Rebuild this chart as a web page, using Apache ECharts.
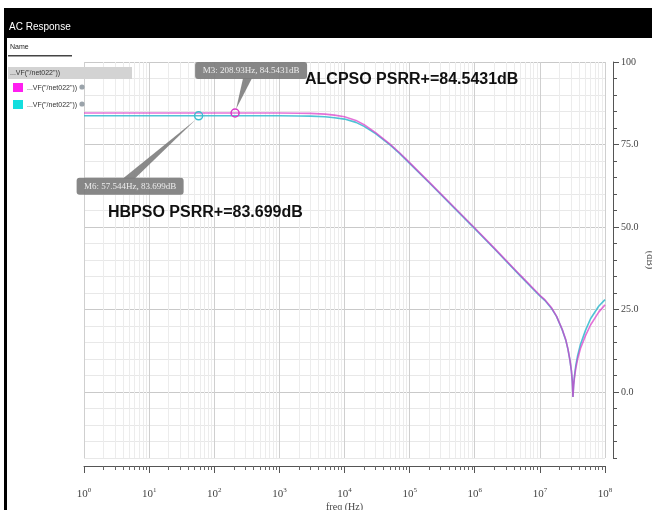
<!DOCTYPE html>
<html>
<head>
<meta charset="utf-8">
<title>AC Response</title>
<script src="https://cdn.jsdelivr.net/npm/echarts@6/dist/echarts.min.js"></script>
<style>
  html, body { margin: 0; padding: 0; background: #fff; }
  #chart { width: 652px; height: 510px; }
</style>
</head>
<body>
<div id="chart"></div>
<script>
// Sweep frequencies (Hz)
const freqHz = [1, 10, 100, 1000, 2000, 3000, 5000, 7000, 1e4, 1.5e4, 2e4, 3e4, 5e4, 7e4,
  1e5, 2e5, 5e5, 1e6, 2e6, 5e6, 1e7, 1.2e7, 1.5e7, 1.8e7, 2.2e7, 2.5e7, 2.7e7, 2.9e7, 3.05e7, 3.15e7, 3.22e7,
  3.3e7, 3.4e7, 3.55e7, 3.8e7, 4.2e7, 5e7, 6e7, 8e7, 1e8];
// PSRR+ magnitude (dB), ALCPSO-sized regulator
const alcpsoDb = [84.5431, 84.5431, 84.5431, 84.53, 84.49, 84.42, 84.2, 83.9, 83.4, 82.3, 81.0, 78.6, 75.1, 72.5,
  69.5, 63.6, 55.7, 49.7, 43.6, 35.4, 29.3, 27.9, 25.6, 23.0, 19.0, 15.8, 13.0, 9.6, 6.4, 3.2, -1.5,
  2.0, 4.4, 7.0, 10.0, 13.2, 17.0, 20.3, 24.2, 26.4];
// PSRR+ magnitude (dB), HBPSO-sized regulator
const hbpsoDb = [83.699, 83.699, 83.699, 83.69, 83.65, 83.6, 83.4, 83.1, 82.7, 81.7, 80.5, 78.3, 74.9, 72.3,
  69.3, 63.4, 55.5, 49.5, 43.4, 35.2, 29.1, 27.7, 25.4, 22.9, 18.9, 15.7, 12.9, 9.5, 6.3, 3.1, -1.5,
  2.3, 4.9, 7.8, 11.0, 14.4, 18.6, 22.2, 26.0, 28.0];

// Axis ticks
const decadeExponents = [0, 1, 2, 3, 4, 5, 6, 7, 8];
const minorMultipliers = [2, 3, 4, 5, 6, 7, 8, 9];
const dbMajorTicks = [0, 25, 50, 75, 100];

// Markers placed on the curves
const markerNames = ['M3', 'M6'];
const markerFreq = [208.93, 57.544];
const markerDb = [84.5431, 83.699];
const markerSeries = [0, 1];

// Trace names and notes
const traceName = '...VF("/net022"))';
const seriesNames = ['ALCPSO', 'HBPSO'];
const noteText = ['ALCPSO PSRR+=84.5431dB', 'HBPSO PSRR+=83.699dB'];

const magenta = '#d838c8';
const cyan = '#3cbcd0';
const colors = [magenta, cyan];
const lineOpacity = [0.7, 0.9];
const lineZ = [3, 2];

const minorTicks = [];
decadeExponents.slice(0, -1).forEach(e => {
  minorMultipliers.forEach(m => minorTicks.push(m * Math.pow(10, e)));
});

const chart = echarts.init(document.getElementById('chart'), null, { renderer: 'canvas' });

const axisFont = "'Liberation Serif', 'DejaVu Serif', serif";

function seriesFor(idx, values) {
  return {
    name: seriesNames[idx],
    type: 'line',
    xAxisIndex: 0,
    yAxisIndex: 0,
    z: lineZ[idx],
    data: freqHz.map((f, i) => [f, values[i]]),
    showSymbol: false,
    symbol: 'none',
    smooth: false,
    lineStyle: { color: colors[idx], width: 1.6, opacity: lineOpacity[idx] },
    animation: false,
    markPoint: {
      silent: true,
      animation: false,
      symbol: 'circle',
      symbolSize: 8,
      itemStyle: { color: 'rgba(255,255,255,0)', borderColor: colors[idx], borderWidth: 1.5 },
      label: { show: false },
      data: markerNames
        .map((n, k) => ({ name: n, coord: [markerFreq[k], markerDb[k]], s: markerSeries[k] }))
        .filter(d => d.s === idx)
        .map(d => ({ name: d.name, coord: d.coord }))
    }
  };
}

const option = {
  backgroundColor: '#fff',
  animation: false,
  grid: { left: 84, right: 47, top: 62, bottom: 52, show: false, outerBoundsMode: 'none', containLabel: false },
  xAxis: [
    {
      type: 'log', logBase: 10, min: 1, max: 1e8, interval: 1,
      position: 'bottom', offset: 8,
      name: 'freq (Hz)', nameLocation: 'middle', nameGap: 36, nameMoveOverlap: false,
      nameTextStyle: { fontFamily: axisFont, fontSize: 10, color: '#444' },
      axisLine: { show: true, onZero: false, lineStyle: { color: '#555', width: 1 } },
      axisTick: { show: true, inside: false, length: 7, lineStyle: { color: '#555' } },
      axisLabel: {
        margin: 21,
        formatter: v => '{b|10}{s|' + Math.round(Math.log10(v)) + '}',
        rich: {
          b: { fontFamily: axisFont, fontSize: 11, color: '#444' },
          s: { fontFamily: axisFont, fontSize: 7, color: '#444', verticalAlign: 'top', padding: [0, 0, 8, 0] }
        }
      },
      splitLine: { show: true, lineStyle: { color: '#cfcfcf', width: 1 } }
    },
    {
      type: 'log', logBase: 10, min: 1, max: 1e8,
      position: 'bottom', offset: 8,
      axisLine: { show: false, onZero: false },
      axisTick: { show: true, inside: false, length: 4, customValues: minorTicks, lineStyle: { color: '#666' } },
      axisLabel: { show: false },
      splitLine: { show: true, lineStyle: { color: '#ececec', width: 1 } }
    }
  ],
  yAxis: [
    {
      type: 'value', min: -20, max: 100, interval: 5,
      position: 'right', offset: 8,
      axisLine: { show: true, onZero: false, lineStyle: { color: '#555', width: 1 } },
      axisTick: { show: true, inside: false, length: 4, lineStyle: { color: '#555' } },
      axisLabel: { show: false },
      splitLine: { show: true, lineStyle: { color: '#e8e8e8', width: 1 } }
    },
    {
      type: 'value', min: -20, max: 100,
      position: 'right', offset: 8,
      name: '(dB)', nameLocation: 'middle', nameGap: 32, nameRotate: -90, nameMoveOverlap: false,
      nameTextStyle: { fontFamily: axisFont, fontSize: 10, color: '#444' },
      axisLine: { show: false, onZero: false },
      axisTick: { show: true, inside: false, length: 6, customValues: dbMajorTicks, lineStyle: { color: '#555' } },
      axisLabel: {
        show: true, margin: 8, customValues: dbMajorTicks,
        fontFamily: axisFont, fontSize: 10, color: '#444',
        formatter: v => (v === 100 ? '100' : v.toFixed(1))
      },
      splitLine: { show: true, lineStyle: { color: '#c9c9c9', width: 1 } }
    }
  ],
  series: [seriesFor(0, alcpsoDb), seriesFor(1, hbpsoDb)]
};

chart.setOption(option);

// Window frame, trace list and marker callouts
function buildGraphics() {
  const els = [];
  els.push({ type: 'rect', shape: { x: 4, y: 8, width: 648, height: 30 }, style: { fill: '#000' }, z: 100 });
  els.push({ type: 'rect', shape: { x: 4, y: 8, width: 3, height: 502 }, style: { fill: '#000' }, z: 100 });
  els.push({ type: 'text', x: 9, y: 27, style: { text: 'AC Response', fill: '#fff', font: "10px 'Liberation Sans Narrow', 'Liberation Sans', sans-serif", textVerticalAlign: 'middle' }, z: 101 });
  els.push({ type: 'text', x: 10, y: 47, style: { text: 'Name', fill: '#222', font: "7px 'Liberation Sans Narrow', sans-serif", textVerticalAlign: 'middle' }, z: 101 });
  els.push({ type: 'rect', shape: { x: 8, y: 55, width: 64, height: 1.5 }, style: { fill: '#444' }, z: 101 });
  els.push({ type: 'rect', shape: { x: 8, y: 67, width: 124, height: 12 }, style: { fill: '#d3d3d3' }, z: 101 });
  els.push({ type: 'text', x: 10, y: 73, style: { text: traceName, fill: '#333', font: "7px 'Liberation Sans Narrow', sans-serif", textVerticalAlign: 'middle' }, z: 102 });
  const rowY = [88, 105];
  rowY.forEach((y, i) => {
    els.push({ type: 'rect', shape: { x: 13, y: y - 5, width: 10, height: 9 }, style: { fill: i === 0 ? '#ff1ff0' : '#14dede' }, z: 101 });
    els.push({ type: 'text', x: 27, y: y, style: { text: traceName, fill: '#333', font: "7px 'Liberation Sans Narrow', sans-serif", textVerticalAlign: 'middle' }, z: 101 });
    els.push({ type: 'circle', shape: { cx: 82, cy: y - 1, r: 2.6 }, style: { fill: '#9aa3aa' }, z: 101 });
  });

  // Callout boxes with pointers to the marker circles
  const calloutSpec = [
    { dx: -40, dy: -51, w: 112, base: [8, 17], baseOnTop: false },
    { dx: -122, dy: 62, w: 107, base: [-76, -64], baseOnTop: true }
  ];
  markerNames.forEach((name, k) => {
    const p = chart.convertToPixel({ xAxisIndex: 0, yAxisIndex: 0 }, [markerFreq[k], markerDb[k]]);
    const s = calloutSpec[k];
    const bx = p[0] + s.dx, by = p[1] + s.dy, h = 17;
    const baseY = s.baseOnTop ? by + 1 : by + h - 1;
    const tipY = s.baseOnTop ? p[1] + 4 : p[1] - 4;
    const tipX = s.baseOnTop ? p[0] - 3 : p[0] + 1;
    els.push({ type: 'polygon', shape: { points: [[p[0] + s.base[0], baseY], [p[0] + s.base[1], baseY], [tipX, tipY]] }, style: { fill: '#7d7d7d', opacity: 0.9 }, z: 110 });
    els.push({ type: 'rect', shape: { x: bx, y: by, width: s.w, height: h, r: 3 }, style: { fill: '#7d7d7d', opacity: 0.92 }, z: 111 });
    const txt = name + ': ' + markerFreq[k] + 'Hz, ' + markerDb[k] + 'dB';
    els.push({ type: 'text', x: bx + s.w / 2, y: by + h / 2, style: { text: txt, fill: '#ececec', font: "9px 'Liberation Serif', serif", textAlign: 'center', textVerticalAlign: 'middle' }, z: 112 });
  });

  // Value notes
  const noteFont = "bold 16px 'Liberation Sans Narrow', 'Liberation Sans', sans-serif";
  els.push({ type: 'text', x: 305, y: 80, style: { text: noteText[0], fill: '#111', font: noteFont, textVerticalAlign: 'middle' }, z: 120 });
  els.push({ type: 'text', x: 108, y: 213, style: { text: noteText[1], fill: '#111', font: noteFont, textVerticalAlign: 'middle' }, z: 120 });
  return els;
}

chart.setOption({ graphic: buildGraphics() });
</script>
</body>
</html>
